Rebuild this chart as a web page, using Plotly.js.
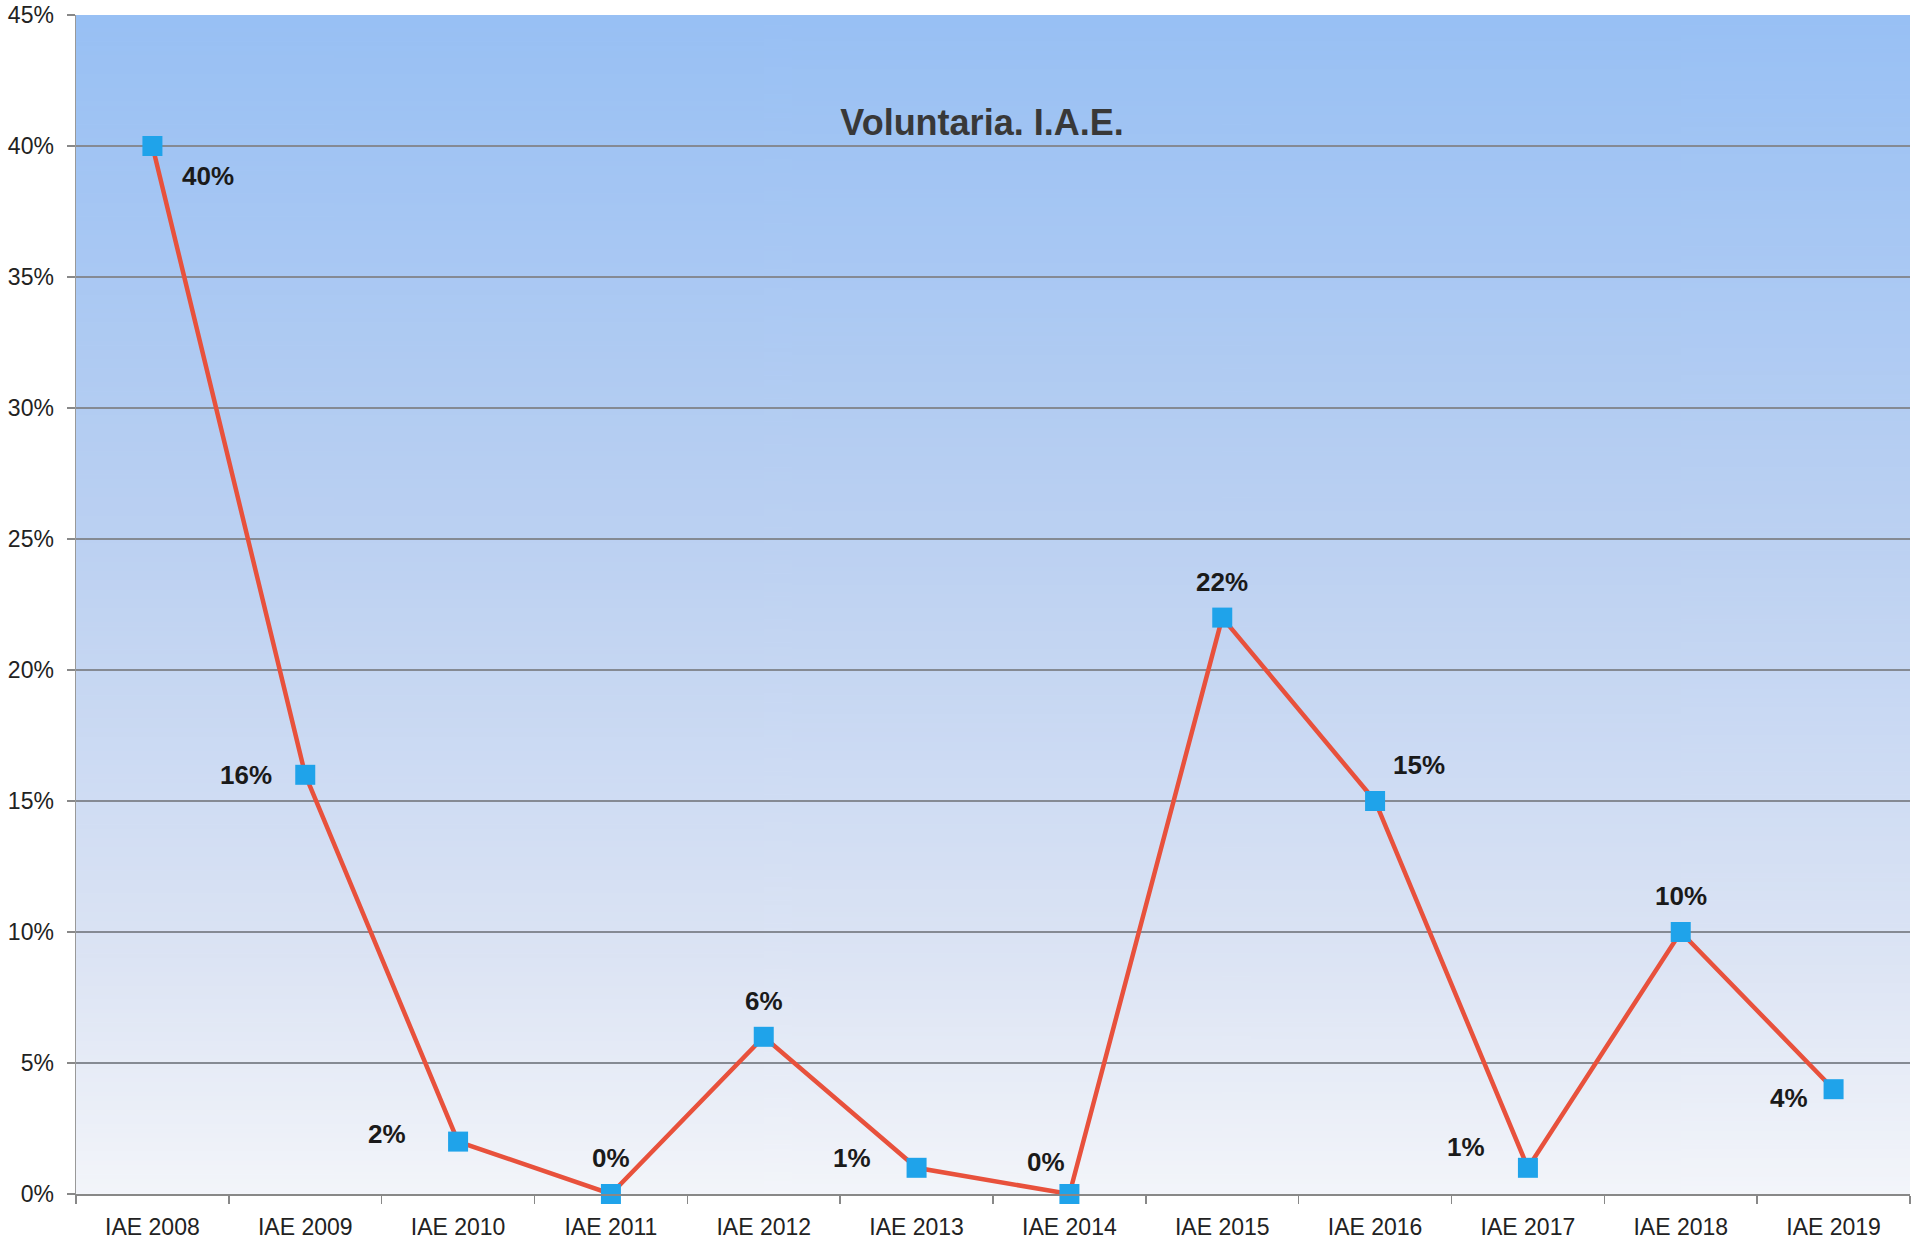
<!DOCTYPE html>
<html>
<head>
<meta charset="utf-8">
<script src="https://cdn.plot.ly/plotly-3.0.1.min.js"></script>
<style>
html,body{margin:0;padding:0;background:#fff;}
#chart{width:1912px;height:1249px;}
</style>
</head>
<body>
<div id="chart"></div>
<script>
// Data
const categories = ["IAE 2008","IAE 2009","IAE 2010","IAE 2011","IAE 2012","IAE 2013","IAE 2014","IAE 2015","IAE 2016","IAE 2017","IAE 2018","IAE 2019"];
const values = [0.40, 0.16, 0.02, 0.00, 0.06, 0.01, 0.00, 0.22, 0.15, 0.01, 0.10, 0.04];
const yTickVals = [0, 0.05, 0.10, 0.15, 0.20, 0.25, 0.30, 0.35, 0.40, 0.45];
const yTickText = ["0%","5%","10%","15%","20%","25%","30%","35%","40%","45%"];
const chartTitle = "Voluntaria. I.A.E.";

// Label offsets (styling, pixels)
const labelShift = [[56,-30],[-59,0],[-71,8],[0,36],[0,36],[-65,10],[-23,32],[0,36],[44,36],[-62,21],[0,36],[-45,-9]];

// Background gradient
const cv = document.createElement('canvas');
cv.width = 4; cv.height = 512;
const ctx = cv.getContext('2d');
const g = ctx.createLinearGradient(0,0,0,512);
g.addColorStop(0, '#98C0F4');
g.addColorStop(0.45, '#BCD1F2');
g.addColorStop(0.8, '#DCE4F4');
g.addColorStop(1, '#F3F5FA');
ctx.fillStyle = g; ctx.fillRect(0,0,4,512);
const bgURL = cv.toDataURL('image/png');

const annotations = values.map((v,i)=>({
  x: categories[i], y: v, xref:'x', yref:'y',
  text: Math.round(v*100) + '%',
  showarrow:false,
  xshift: labelShift[i][0], yshift: labelShift[i][1],
  font:{family:'Liberation Sans, Arial, sans-serif', size:26, color:'#1a1a1a', weight:'bold'}
}));

const trace = {
  x: categories, y: values, type:'scatter', mode:'lines+markers',
  line:{color:'#E8513C', width:4.5},
  marker:{symbol:'square', size:20, color:'#1FA3EA', line:{width:0}},
  hoverinfo:'skip', cliponaxis:false
};

const layout = {
  width:1912, height:1249,
  margin:{l:76, r:2, t:15, b:55},
  paper_bgcolor:'#ffffff',
  plot_bgcolor:'rgba(0,0,0,0)',
  showlegend:false,
  title:{text:chartTitle, x:0.494, xanchor:'center', y:0.902, yanchor:'middle', xref:'paper', yref:'container',
    font:{family:'Liberation Sans, Arial, sans-serif', size:36, color:'#383838', weight:'bold'}},
  xaxis:{
    type:'category', range:[-0.5, 11.5],
    tickson:'boundaries', ticks:'outside', ticklen:8, tickcolor:'#888888', tickwidth:1.5,
    ticklabelstandoff:12,
    showgrid:false, showline:true, linecolor:'#888888', linewidth:1.5,
    tickfont:{family:'Liberation Sans, Arial, sans-serif', size:23, color:'#222222'},
    zeroline:false
  },
  yaxis:{
    range:[0, 0.45], tickvals:yTickVals, ticktext:yTickText,
    ticks:'outside', ticklen:8, tickcolor:'#888888', tickwidth:1.5,
    ticklabelstandoff:8,
    showgrid:true, gridcolor:'#858A93', gridwidth:1.6,
    showline:true, linecolor:'#999999', linewidth:1.5,
    zeroline:false,
    tickfont:{family:'Liberation Sans, Arial, sans-serif', size:23, color:'#222222'}
  },
  images:[{source:bgURL, xref:'paper', yref:'paper', x:0, y:1, sizex:1, sizey:1, sizing:'stretch', xanchor:'left', yanchor:'top', layer:'below'}],
  annotations: annotations
};

Plotly.newPlot('chart', [trace], layout, {displayModeBar:false, staticPlot:true});
</script>
</body>
</html>
